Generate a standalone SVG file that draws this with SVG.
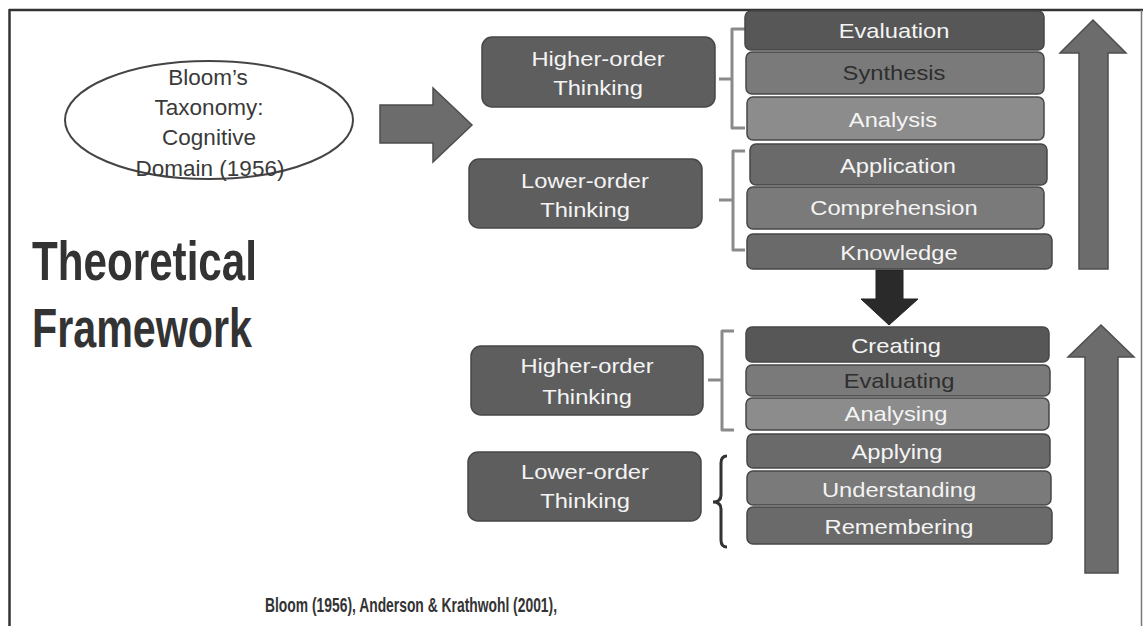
<svg xmlns="http://www.w3.org/2000/svg" width="1143" height="626" viewBox="0 0 1143 626">
<style>
.frame{stroke:#333;stroke-width:2.5;fill:none}
.box{stroke:#474747;stroke-width:1.5}
.d{fill:#575757}.m{fill:#7a7a7a}.l{fill:#8c8c8c}.k{fill:#6a6a6a}.c{fill:#5e5e5e}
.bl{font-family:"Liberation Sans",Arial,sans-serif;font-size:21px;fill:#f4f4f4;text-anchor:middle}
.dk{fill:#2e2e2e}
.el{font-family:"Liberation Sans",Arial,sans-serif;font-size:22.5px;fill:#3a3a3a;text-anchor:middle}
.title{font-family:"Liberation Sans",Arial,sans-serif;font-weight:bold;fill:#333}
.arr{fill:#6c6c6c;stroke:#4e4e4e;stroke-width:1.5}
.br{fill:none;stroke:#8a8a8a;stroke-width:3;stroke-linejoin:round}
</style>
<rect width="1143" height="626" fill="#fff"/>
<line class="frame" x1="9" y1="10" x2="1143" y2="10"/>
<line class="frame" x1="9.5" y1="9" x2="9.5" y2="626"/>
<line x1="1141.5" y1="10" x2="1141.5" y2="626" stroke="#777" stroke-width="1.5"/>

<g id="title">
<text class="title" x="32" y="280" font-size="55" textLength="225" lengthAdjust="spacingAndGlyphs">Theoretical</text>
<text class="title" x="32" y="347" font-size="55" textLength="220" lengthAdjust="spacingAndGlyphs">Framework</text>
</g>
<g id="citation">
<text class="title" x="265" y="612" font-size="19.5" textLength="292" lengthAdjust="spacingAndGlyphs">Bloom (1956), Anderson &amp; Krathwohl (2001),</text>
</g>

<g id="bloom">
<ellipse cx="209" cy="120" rx="144" ry="59" fill="#fff" stroke="#444" stroke-width="2"/>
<text class="el" x="208" y="85">Bloom’s</text>
<text class="el" x="209" y="115">Taxonomy:</text>
<text class="el" x="209" y="145">Cognitive</text>
<text class="el" x="210" y="176">Domain (1956)</text>
</g>

<g id="connectors">
<polygon class="arr" points="380,105 433,105 433,88 472,125 433,162 433,143 380,143"/>
<polygon class="arr" points="1079,269 1079,53 1060,53 1093,20 1126,53 1108,53 1108,269"/>
<polygon class="arr" points="1085,573 1085,357 1068,357 1101,325 1134,357 1118,357 1118,573"/>
<polygon points="876,270 903,270 903,299 918,299 889,325 861,299 876,299" fill="#2a2a2a" stroke="#222" stroke-width="1"/>
<path class="br" d="M745,29 H732 V128 H745 M732,79 H719"/>
<path class="br" d="M745,151 H733 V250 H745 M733,200 H719"/>
<path class="br" stroke="#999" d="M734,331 H722 V430 H734 M722,380 H708"/>
<path fill="none" stroke="#333" stroke-width="3" d="M727,456 Q721,456 721,463 V495 Q721,502 713,502 Q721,502 721,509 V540 Q721,547 727,547"/>
</g>

<g id="higher1"><rect class="box c" x="482" y="37" width="233" height="70" rx="10"/>
<text class="bl" transform="translate(598,66) scale(1.13,1)">Higher-order</text>
<text class="bl" transform="translate(598,95) scale(1.13,1)">Thinking</text></g>
<g id="lower1"><rect class="box c" x="469" y="159" width="233" height="69" rx="10"/>
<text class="bl" transform="translate(585,188) scale(1.13,1)">Lower-order</text>
<text class="bl" transform="translate(585,217) scale(1.13,1)">Thinking</text></g>
<g id="higher2"><rect class="box c" x="471" y="346" width="232" height="69" rx="10"/>
<text class="bl" transform="translate(587,373) scale(1.13,1)">Higher-order</text>
<text class="bl" transform="translate(587,404) scale(1.13,1)">Thinking</text></g>
<g id="lower2"><rect class="box c" x="468" y="452" width="233" height="69" rx="10"/>
<text class="bl" transform="translate(585,479) scale(1.13,1)">Lower-order</text>
<text class="bl" transform="translate(585,508) scale(1.13,1)">Thinking</text></g>

<g id="evaluation"><rect class="box d" x="745" y="11" width="299" height="39" rx="6"/>
<text class="bl" transform="translate(894,38) scale(1.13,1)">Evaluation</text></g>
<g id="synthesis"><rect class="box m" x="746" y="52" width="298" height="42" rx="6"/>
<text class="bl dk" transform="translate(894,80) scale(1.13,1)">Synthesis</text></g>
<g id="analysis"><rect class="box l" x="747" y="97" width="297" height="43" rx="6"/>
<text class="bl" transform="translate(893,127) scale(1.13,1)">Analysis</text></g>
<g id="application"><rect class="box k" x="750" y="144" width="297" height="41" rx="6"/>
<text class="bl" transform="translate(898,173) scale(1.13,1)">Application</text></g>
<g id="comprehension"><rect class="box m" x="747" y="187" width="297" height="42" rx="6"/>
<text class="bl" transform="translate(894,215) scale(1.13,1)">Comprehension</text></g>
<g id="knowledge"><rect class="box k" x="747" y="234" width="305" height="35" rx="6"/>
<text class="bl" transform="translate(899,260) scale(1.13,1)">Knowledge</text></g>

<g id="creating"><rect class="box d" x="746" y="327" width="303" height="35" rx="6"/>
<text class="bl" transform="translate(896,353) scale(1.13,1)">Creating</text></g>
<g id="evaluating"><rect class="box m" x="746" y="365" width="304" height="31" rx="6"/>
<text class="bl dk" transform="translate(899,388) scale(1.13,1)">Evaluating</text></g>
<g id="analysing"><rect class="box l" x="746" y="398" width="303" height="32" rx="6"/>
<text class="bl" transform="translate(896,421) scale(1.13,1)">Analysing</text></g>
<g id="applying"><rect class="box k" x="747" y="434" width="303" height="34" rx="6"/>
<text class="bl" transform="translate(897,459) scale(1.13,1)">Applying</text></g>
<g id="understanding"><rect class="box m" x="747" y="471" width="304" height="34" rx="6"/>
<text class="bl" transform="translate(899,497) scale(1.13,1)">Understanding</text></g>
<g id="remembering"><rect class="box k" x="747" y="507" width="305" height="37" rx="6"/>
<text class="bl" transform="translate(899,534) scale(1.13,1)">Remembering</text></g>
</svg>
